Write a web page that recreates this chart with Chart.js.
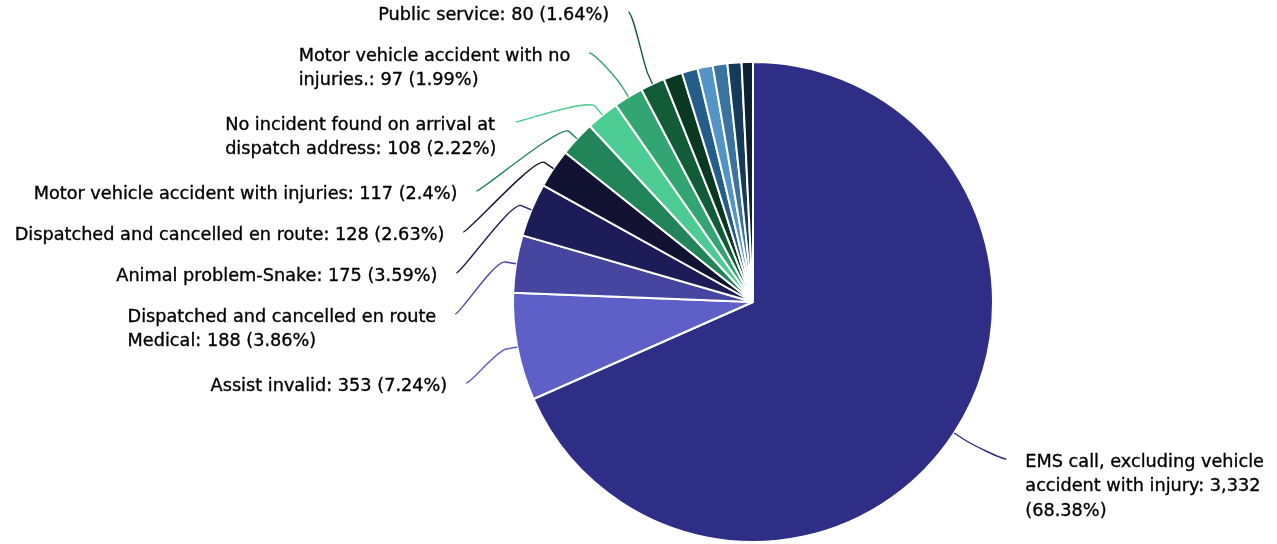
<!DOCTYPE html>
<html>
<head>
<meta charset="utf-8">
<script src="https://cdn.jsdelivr.net/npm/chart.js@4.4.0/dist/chart.umd.min.js"></script>
<style>
  html, body { margin: 0; padding: 0; background: #fff; }
</style>
</head>
<body>
<canvas id="myChart" width="1277" height="544"></canvas>
<script>
const categories = [
    'EMS call, excluding vehicle accident with injury',
    'Assist invalid',
    'Dispatched and cancelled en route Medical',
    'Animal problem-Snake',
    'Dispatched and cancelled en route',
    'Motor vehicle accident with injuries',
    'No incident found on arrival at dispatch address',
    'Motor vehicle accident with no injuries.',
    'Public service',
    'Other type 1',
    'Other type 2',
    'Other type 3',
    'Other type 4',
    'Other type 5',
    'Other type 6'
]
const calls = [3332, 353, 188, 175, 128, 117, 108, 97, 80, 62, 52, 50, 48, 46, 37]

const sliceColors = [
    '#2f2e86', '#5f5fc8', '#4646a1', '#1c1c58', '#121232',
    '#22855a', '#4ccb92', '#32a572', '#135c38', '#0b3820',
    '#245c8a', '#5294c6', '#3a72a0', '#163a5a', '#0f2030'
]

// greedy word wrap with measureText
function wrapText(ctx, text, maxWidth) {
    const words = text.split(' ')
    const lines = []
    let line = ''
    words.forEach(w => {
        const test = line ? line + ' ' + w : w
        if (line && ctx.measureText(test).width > maxWidth) {
            lines.push(line)
            line = w
        } else {
            line = test
        }
    })
    if (line) lines.push(line)
    return lines
}

// push overlapping label boxes apart, groups sit at weighted mean of their targets
function spread(items, minTop, maxBottom) {
    let groups = items.map(it => ({ members: [it], size: it.size, weight: it.weight, sum: it.target * it.weight }))
    const place = g => Math.min(Math.max(g.sum / g.weight, minTop), maxBottom - g.size)
    let merged = true
    while (merged) {
        merged = false
        for (let i = 0; i < groups.length - 1; i++) {
            const a = groups[i], b = groups[i + 1]
            if (place(a) + a.size > place(b)) {
                groups.splice(i, 2, {
                    members: a.members.concat(b.members),
                    size: a.size + b.size,
                    weight: a.weight + b.weight,
                    sum: a.sum + b.sum - a.size * b.weight
                })
                merged = true
                break
            }
        }
    }
    groups.forEach(g => {
        let y = place(g)
        g.members.forEach(m => { m.top = y; y += m.size })
    })
}

const outsideLabels = {
    id: 'outsideLabels',
    afterDatasetsDraw(chart, args, opts) {
        const ctx = chart.ctx
        const meta = chart.getDatasetMeta(0)
        const ds = chart.data.datasets[0]
        const total = ds.data.reduce((a, b) => a + b, 0)
        ctx.save()
        ctx.font = opts.font
        const sides = { left: [], right: [] }
        meta.data.forEach((arc, i) => {
            const v = ds.data[i]
            const pct = v / total * 100
            if (pct < opts.minPercent) return
            const mid = (arc.startAngle + arc.endAngle) / 2
            const r = arc.outerRadius
            const text = chart.data.labels[i] + ': ' + v.toLocaleString('en-US') + ' (' + (+pct.toFixed(2)) + '%)'
            const lines = wrapText(ctx, text, opts.wrapWidths[i] || 9999)
            const naturalY = arc.y + Math.sin(mid) * (r + opts.distance)
            const item = {
                arc, mid, r, lines, naturalY,
                width: Math.max(...lines.map(l => ctx.measureText(l).width)),
                color: ds.backgroundColor[i],
                size: opts.boxHeight + (lines.length - 1) * opts.extraLine,
                weight: v,
                target: naturalY - opts.anchorOffset
            }
            ;(Math.cos(mid) < 0 ? sides.left : sides.right).push(item)
        })
        Object.entries(sides).forEach(([side, items]) => {
            items.sort((a, b) => a.naturalY - b.naturalY)
            spread(items, 0, chart.height)
            const dir = side === 'left' ? -1 : 1
            items.forEach(it => {
                const cx = it.arc.x, cy = it.arc.y, R = it.r + opts.distance
                const anchorY = it.top + opts.anchorOffset
                const yForX = it.top <= 0.5 ? it.naturalY : anchorY
                const dy = Math.max(-R, Math.min(R, yForX - cy))
                const ax = cx + dir * Math.sqrt(R * R - dy * dy)
                const touch = { x: cx + Math.cos(it.mid) * it.r, y: cy + Math.sin(it.mid) * it.r }
                const brk = { x: cx + Math.cos(it.mid) * (it.r + opts.breakOffset), y: cy + Math.sin(it.mid) * (it.r + opts.breakOffset) }
                ctx.beginPath()
                ctx.moveTo(ax, anchorY)
                ctx.bezierCurveTo(ax - dir * 5, anchorY, 2 * brk.x - touch.x, 2 * brk.y - touch.y, brk.x, brk.y)
                ctx.lineTo(touch.x, touch.y)
                ctx.strokeStyle = it.color
                ctx.lineWidth = 1.4
                ctx.stroke()

                // box hangs off the connector, lines inside it are left aligned
                const boxLeft = side === 'left' ? ax - opts.gap - it.width : ax + opts.gap
                ctx.fillStyle = '#000'
                ctx.strokeStyle = '#000'
                ctx.lineWidth = 0.35
                ctx.textAlign = 'left'
                ctx.textBaseline = 'middle'
                it.lines.forEach((ln, k) => {
                    const ty = anchorY + 3 + k * opts.lineHeight
                    ctx.fillText(ln, boxLeft, ty)
                    ctx.strokeText(ln, boxLeft, ty)
                })
            })
        })
        ctx.restore()
    }
}

const ctx = document.getElementById('myChart')

const myChart = new Chart(ctx, {
    type: 'pie',
    data: {
        labels: categories,
        datasets: [{
            data: calls,
            backgroundColor: sliceColors,
            borderColor: '#ffffff',
            borderWidth: 2
        }]
    },
    options: {
        responsive: false,
        animation: false,
        events: [],
        layout: { padding: { left: 512, right: 283, top: 61, bottom: 1 } },
        plugins: {
            legend: { display: false },
            tooltip: { enabled: false },
            outsideLabels: {
                font: '17.7px "DejaVu Sans"',
                minPercent: 1.5,
                distance: 58,
                breakOffset: 11,
                gap: 19,
                lineHeight: 24.5,
                boxHeight: 41,
                extraLine: 28,
                anchorOffset: 12,
                wrapWidths: { 0: 248, 2: 345, 6: 315, 7: 315 }
            }
        }
    },
    plugins: [outsideLabels]
})
</script>
</body>
</html>
